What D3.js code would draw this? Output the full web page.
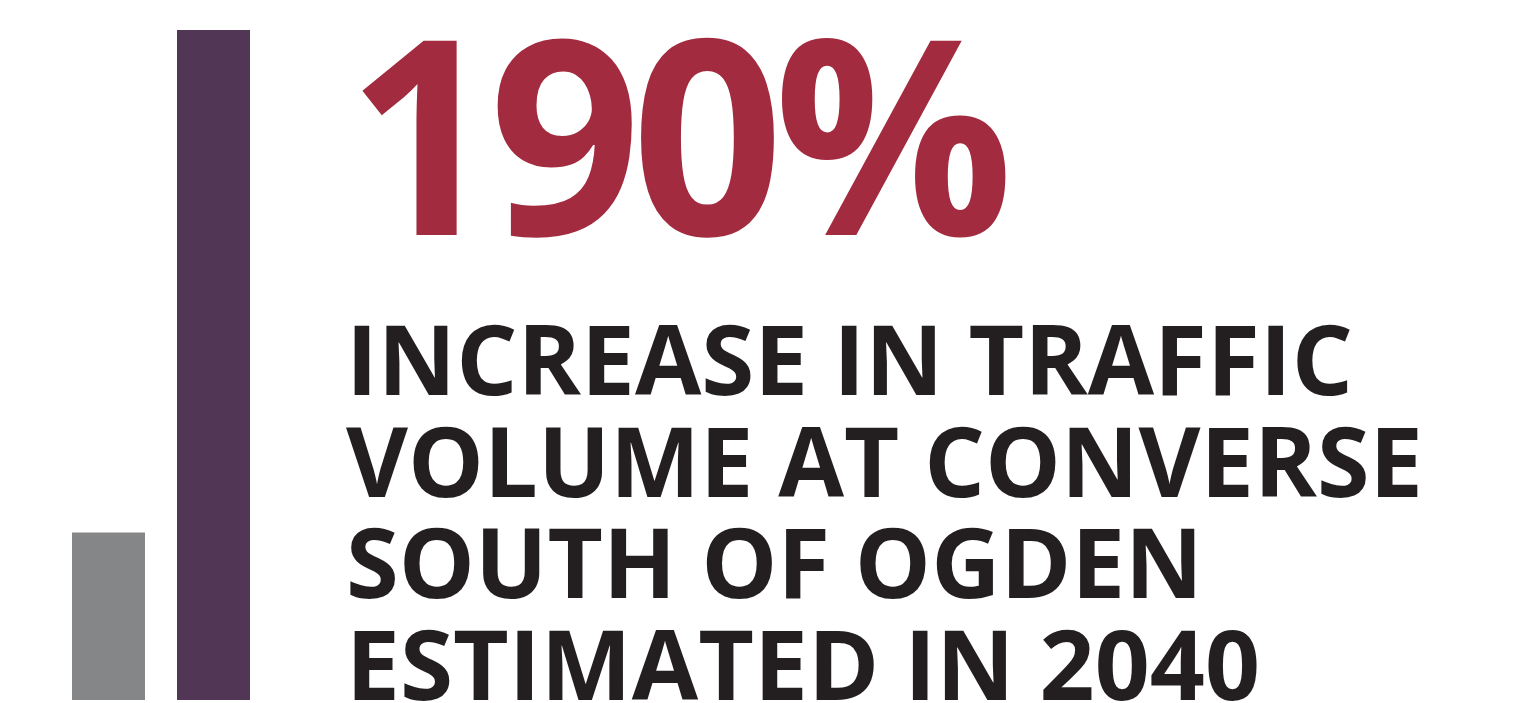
<!DOCTYPE html>
<html>
<head>
<meta charset="utf-8">
<script src="https://cdn.jsdelivr.net/npm/d3@7"></script>
<style>
  html, body { margin: 0; padding: 0; background: #ffffff; }
  svg { display: block; }
</style>
</head>
<body>
<svg id="chart" width="1514" height="703"></svg>
<script>
// ---- data ----
const categories = ["Today", "2040"];
const barValues = [25, 100];           // relative traffic volume (bar heights)
const barColors = ["#858688", "#513755"];
const headline = "190%";
const captionLines = [
  "INCREASE IN TRAFFIC",
  "VOLUME AT CONVERSE",
  "SOUTH OF OGDEN",
  "ESTIMATED IN 2040"
];

// ---- layout ----
const svg = d3.select("#chart");

const x = d3.scaleBand()
  .domain(categories)
  .range([72, 250])
  .paddingInner(0.305)
  .paddingOuter(0);

const y = d3.scaleLinear()
  .domain([0, 100])
  .range([700, 30]);

svg.selectAll("rect.bar")
  .data(categories.map((c, i) => ({ c, v: barValues[i], col: barColors[i] })))
  .join("rect")
  .attr("class", "bar")
  .attr("x", d => x(d.c))
  .attr("width", x.bandwidth())
  .attr("y", d => y(d.v))
  .attr("height", d => y(0) - y(d.v))
  .attr("fill", d => d.col);

// headline "190%"
const fs = 272;
const head = svg.append("text")
  .text(headline)
  .attr("font-family", "'Open Sans', sans-serif")
  .attr("font-weight", 700)
  .attr("font-size", fs)
  .attr("letter-spacing", -10)
  .attr("fill", "#a32b3f")
  .attr("x", 0)
  .attr("y", 0);
{
  const bb = head.node().getBBox();
  const targetLeft = 360, targetRight = 1004;
  const sx = (targetRight - targetLeft) / (bb.width - 0.06 * fs);
  const inkLeft = bb.x + 0.05 * fs;
  head.attr("transform", `translate(${targetLeft - inkLeft * sx},235) scale(${sx},1)`);
}

// caption
const baselines = [395, 496.5, 598, 699.5];
const targetRight = [1353, 1423, 1203, 1260];
svg.selectAll("text.cap")
  .data(captionLines)
  .join("text")
  .attr("class", "cap")
  .attr("x", 346)
  .attr("y", (d, i) => baselines[i])
  .attr("font-family", "'Open Sans', sans-serif")
  .attr("font-weight", 700)
  .attr("font-size", 97)
  .attr("fill", "#231f20")
  .text(d => d)
  .each(function (d, i) {
    this.setAttribute("textLength", targetRight[i] - 346);
    this.setAttribute("lengthAdjust", "spacingAndGlyphs");
  });
</script>
</body>
</html>
